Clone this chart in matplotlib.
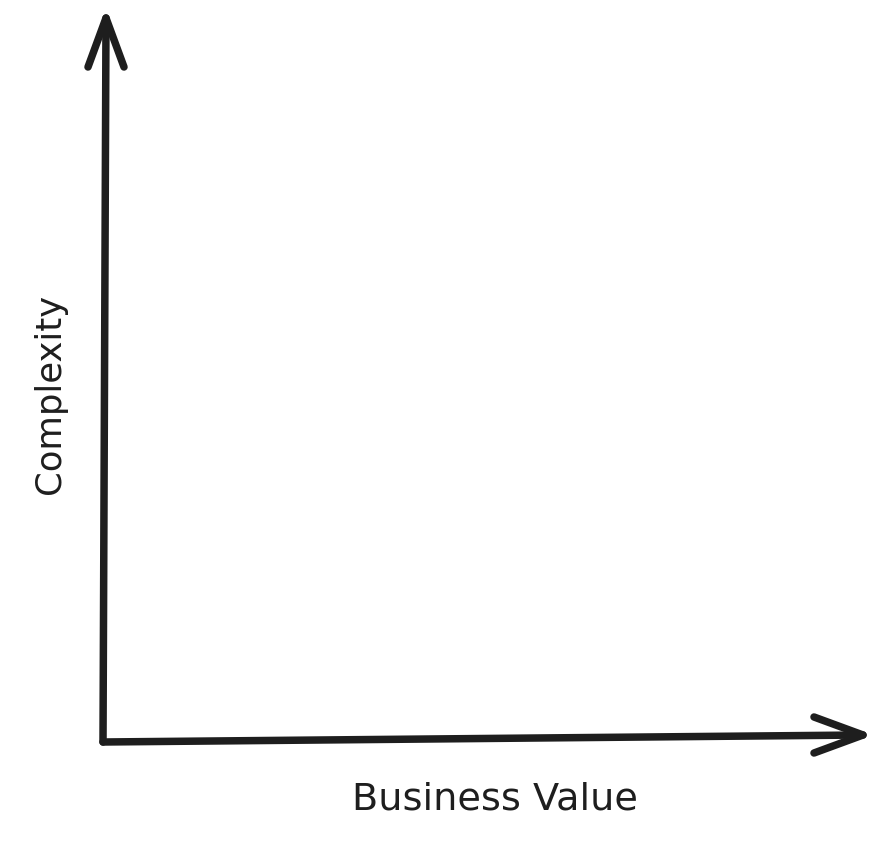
import matplotlib.pyplot as plt

# ── axis sketch (figure pixel space, y grows downward) ────────────
origin = (103, 742)
y_axis_tip = (106, 18)
x_axis_tip = (863, 735)
x_label = "Business Value"
y_label = "Complexity"
INK = "#1e1e1e"

fig = plt.figure(figsize=(8.82, 8.47), dpi=100)
ax = fig.add_axes([0, 0, 1, 1])
ax.set_xlim(0, 882)
ax.set_ylim(847, 0)
ax.axis("off")

lw = 5.4
style = dict(color=INK, lw=lw, solid_capstyle="round", solid_joinstyle="round")

# shafts
ax.plot([origin[0], y_axis_tip[0]], [origin[1], y_axis_tip[1]], **style)
ax.plot([origin[0], x_axis_tip[0]], [origin[1], x_axis_tip[1]], **style)

# open chevron heads
head_len, head_half = 49, 18
tx, ty = y_axis_tip
ax.plot([tx - head_half, tx, tx + head_half], [ty + head_len, ty, ty + head_len], **style)
tx, ty = x_axis_tip
ax.plot([tx - head_len, tx, tx - head_len], [ty - head_half, ty, ty + head_half], **style)

ax.text(495, 800, x_label, ha="center", va="center", fontsize=27.5,
        color=INK, family="DejaVu Sans")
ax.text(50, 394, y_label, ha="center", va="center", fontsize=25.5,
        color=INK, family="DejaVu Sans", rotation=90)

plt.savefig("out.png", dpi=100)
